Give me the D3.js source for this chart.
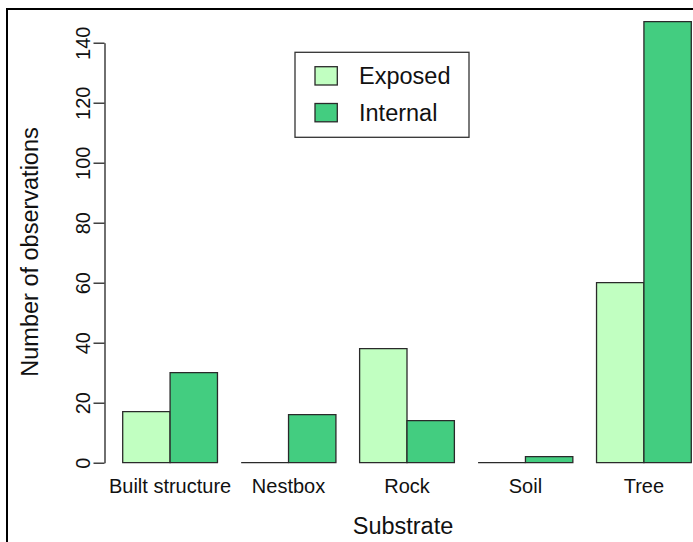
<!DOCTYPE html>
<html><head><meta charset="utf-8">
<script src="https://cdn.jsdelivr.net/npm/d3@7"></script>
<style>body{margin:0;background:#fff}svg{display:block;font-family:"Liberation Sans",Arial,sans-serif}</style>
</head><body><svg id="c" width="693" height="542"></svg>
<script>
const categories = ["Built structure","Nestbox","Rock","Soil","Tree"];
const seriesNames = ["Exposed","Internal"];
const exposed = [17,0,38,0,60];
const internal = [30,16,14,2,147];
const yTicks = [0,20,40,60,80,100,120,140];
const colors = ["#C1FFC1","#43CD80"];

const svg = d3.select("#c");
// frame
svg.append("path").attr("d","M7,542V9H693").attr("fill","none").attr("stroke","#000").attr("stroke-width",2);

const y = d3.scaleLinear().domain([0,140]).range([462.7,42.7]);
const x0 = d3.scaleBand().domain(categories).range([122.7,691.3]).paddingInner(0.2).paddingOuter(0);
const x1 = d3.scaleBand().domain(seriesNames).range([0,x0.bandwidth()]);

const data = categories.map((c,i)=>({c, vals:[exposed[i],internal[i]]}));
const g = svg.append("g");
data.forEach(d=>{
  d.vals.forEach((v,j)=>{
    const xl = x0(d.c)+x1(seriesNames[j]), w = x1.bandwidth();
    const yt = y(v), yb = y(0);
    g.append("path")
      .attr("d",`M${xl},${yb}V${yt}H${xl+w}V${yb}Z`)
      .attr("fill",colors[j]).attr("stroke","#2a2a2a").attr("stroke-width",1.3);
  });
});

// y axis
const ax = svg.append("g").attr("transform","translate(104.5,0)")
  .call(d3.axisLeft(y).tickValues(yTicks).tickSize(11).tickPadding(0).tickSizeOuter(0));
ax.select(".domain").attr("stroke","#222").attr("stroke-width",1.3);
ax.selectAll(".tick line").attr("stroke","#222").attr("stroke-width",1.3);
ax.selectAll(".tick text").attr("font-size",20).attr("fill","#111")
  .attr("transform","translate(-22,0) rotate(-90)")
  .attr("x",0).attr("dy","0.35em").attr("text-anchor","middle");

// category labels
svg.append("g").selectAll("text").data(categories).join("text")
  .attr("x",d=>x0(d)+x0.bandwidth()/2).attr("y",492.5)
  .attr("text-anchor","middle").attr("font-size",20).attr("fill","#111").text(d=>d);

// axis titles
svg.append("text").attr("x",403).attr("y",534).attr("text-anchor","middle")
  .attr("font-size",23.5).attr("fill","#111").text("Substrate");
svg.append("text").attr("transform","translate(38,252) rotate(-90)").attr("text-anchor","middle")
  .attr("font-size",23.5).attr("fill","#111").text("Number of observations");

// legend
const lg = svg.append("g");
lg.append("rect").attr("x",295).attr("y",52.3).attr("width",174).attr("height",85)
  .attr("fill","#fff").attr("stroke","#333").attr("stroke-width",1.3);
seriesNames.forEach((s,i)=>{
  const yy = 66.7 + i*36.8;
  lg.append("rect").attr("x",315).attr("y",yy).attr("width",22.3).attr("height",18.3)
    .attr("fill",colors[i]).attr("stroke","#2a2a2a").attr("stroke-width",1.3);
  lg.append("text").attr("x",359).attr("y",yy+9.2).attr("dy","0.35em")
    .attr("font-size",23.5).attr("fill","#111").text(s);
});
</script></body></html>
